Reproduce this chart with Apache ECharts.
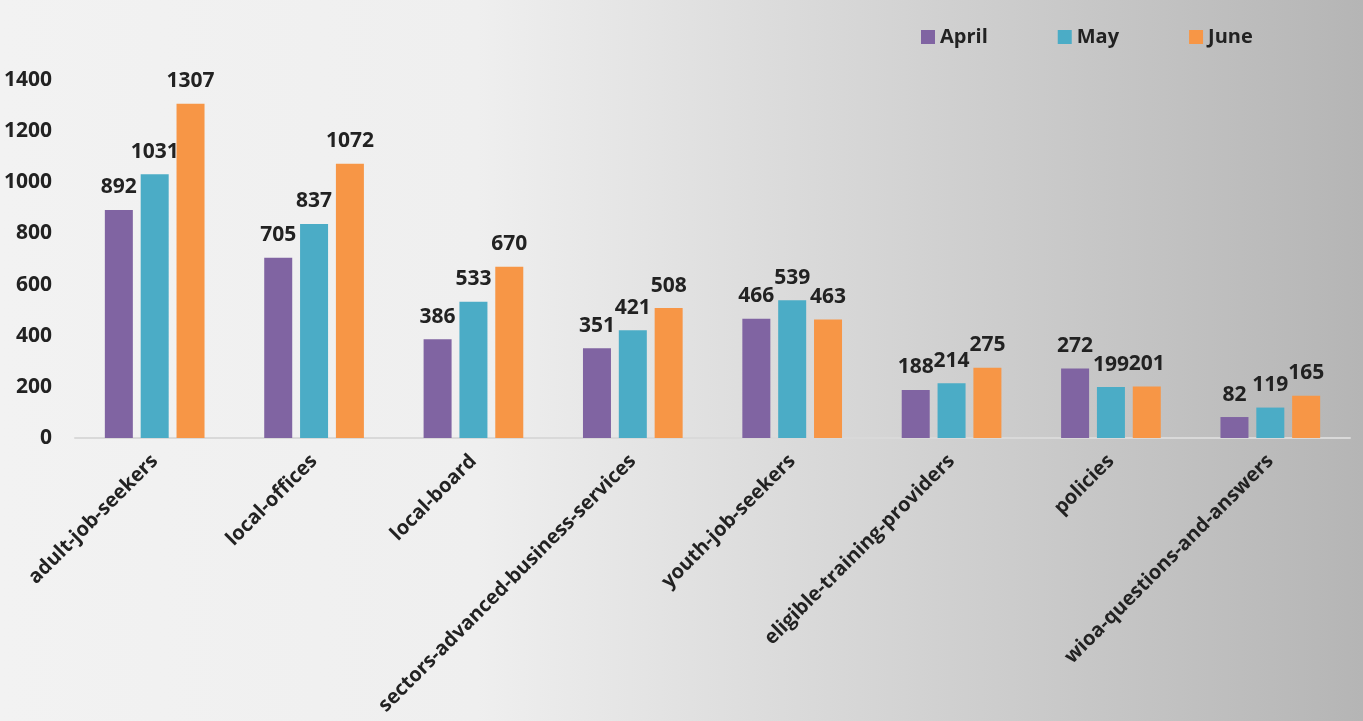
<!DOCTYPE html>
<html>
<head>
<meta charset="utf-8">
<script src="https://cdn.jsdelivr.net/npm/echarts@6/dist/echarts.min.js"></script>
<style>
  html, body { margin: 0; padding: 0; }
  #chart { width: 1363px; height: 721px; }
</style>
</head>
<body>
<div id="chart"></div>
<script>
  // categories and monthly counts
  var categories = ['adult-job-seekers', 'local-offices', 'local-board', 'sectors-advanced-business-services',
    'youth-job-seekers', 'eligible-training-providers', 'policies', 'wioa-questions-and-answers'];
  var april = [892, 705, 386, 351, 466, 188, 272, 82];
  var may = [1031, 837, 533, 421, 539, 214, 199, 119];
  var june = [1307, 1072, 670, 508, 463, 275, 201, 165];

  var font = '"Open Sans", "Liberation Sans", sans-serif';

  function bar(name, data, color) {
    return {
      name: name,
      type: 'bar',
      data: data,
      barWidth: 28,
      barGap: '28%',
      itemStyle: { color: color },
      label: {
        show: true,
        position: 'top',
        distance: 12,
        color: '#222',
        fontWeight: 'bold',
        fontSize: 21,
        fontFamily: font
      }
    };
  }

  var chart = echarts.init(document.getElementById('chart'));
  chart.setOption({
    backgroundColor: {
      type: 'linear', x: 0, y: 0, x2: 1, y2: 0,
      colorStops: [
        { offset: 0, color: '#f2f2f2' },
        { offset: 0.35, color: '#efefef' },
        { offset: 1, color: '#b5b5b5' }
      ]
    },
    animation: false,
    legend: {
      left: 916,
      top: 22,
      icon: 'rect',
      itemWidth: 14,
      itemHeight: 14,
      itemGap: 70,
      textStyle: { color: '#222', fontWeight: 'bold', fontSize: 20, fontFamily: font }
    },
    grid: { left: 75, right: 13, top: 80, bottom: 283 },
    xAxis: {
      type: 'category',
      data: categories,
      axisTick: { show: false },
      axisLine: { lineStyle: { color: '#d9d9d9', width: 2 } },
      axisLabel: {
        rotate: 45,
        interval: 0,
        margin: 20,
        color: '#222',
        fontWeight: 'bold',
        fontSize: 20,
        fontFamily: font
      }
    },
    yAxis: {
      type: 'value',
      min: 0,
      max: 1400,
      interval: 200,
      splitLine: { show: false },
      axisLine: { show: false },
      axisTick: { show: false },
      axisLabel: {
        margin: 23,
        color: '#222',
        fontWeight: 'bold',
        fontSize: 21,
        fontFamily: font,
        formatter: function (v) { return String(v); }
      }
    },
    series: [
      bar('April', april, '#8064a2'),
      bar('May', may, '#4bacc6'),
      bar('June', june, '#f79646')
    ]
  });
</script>
</body>
</html>
